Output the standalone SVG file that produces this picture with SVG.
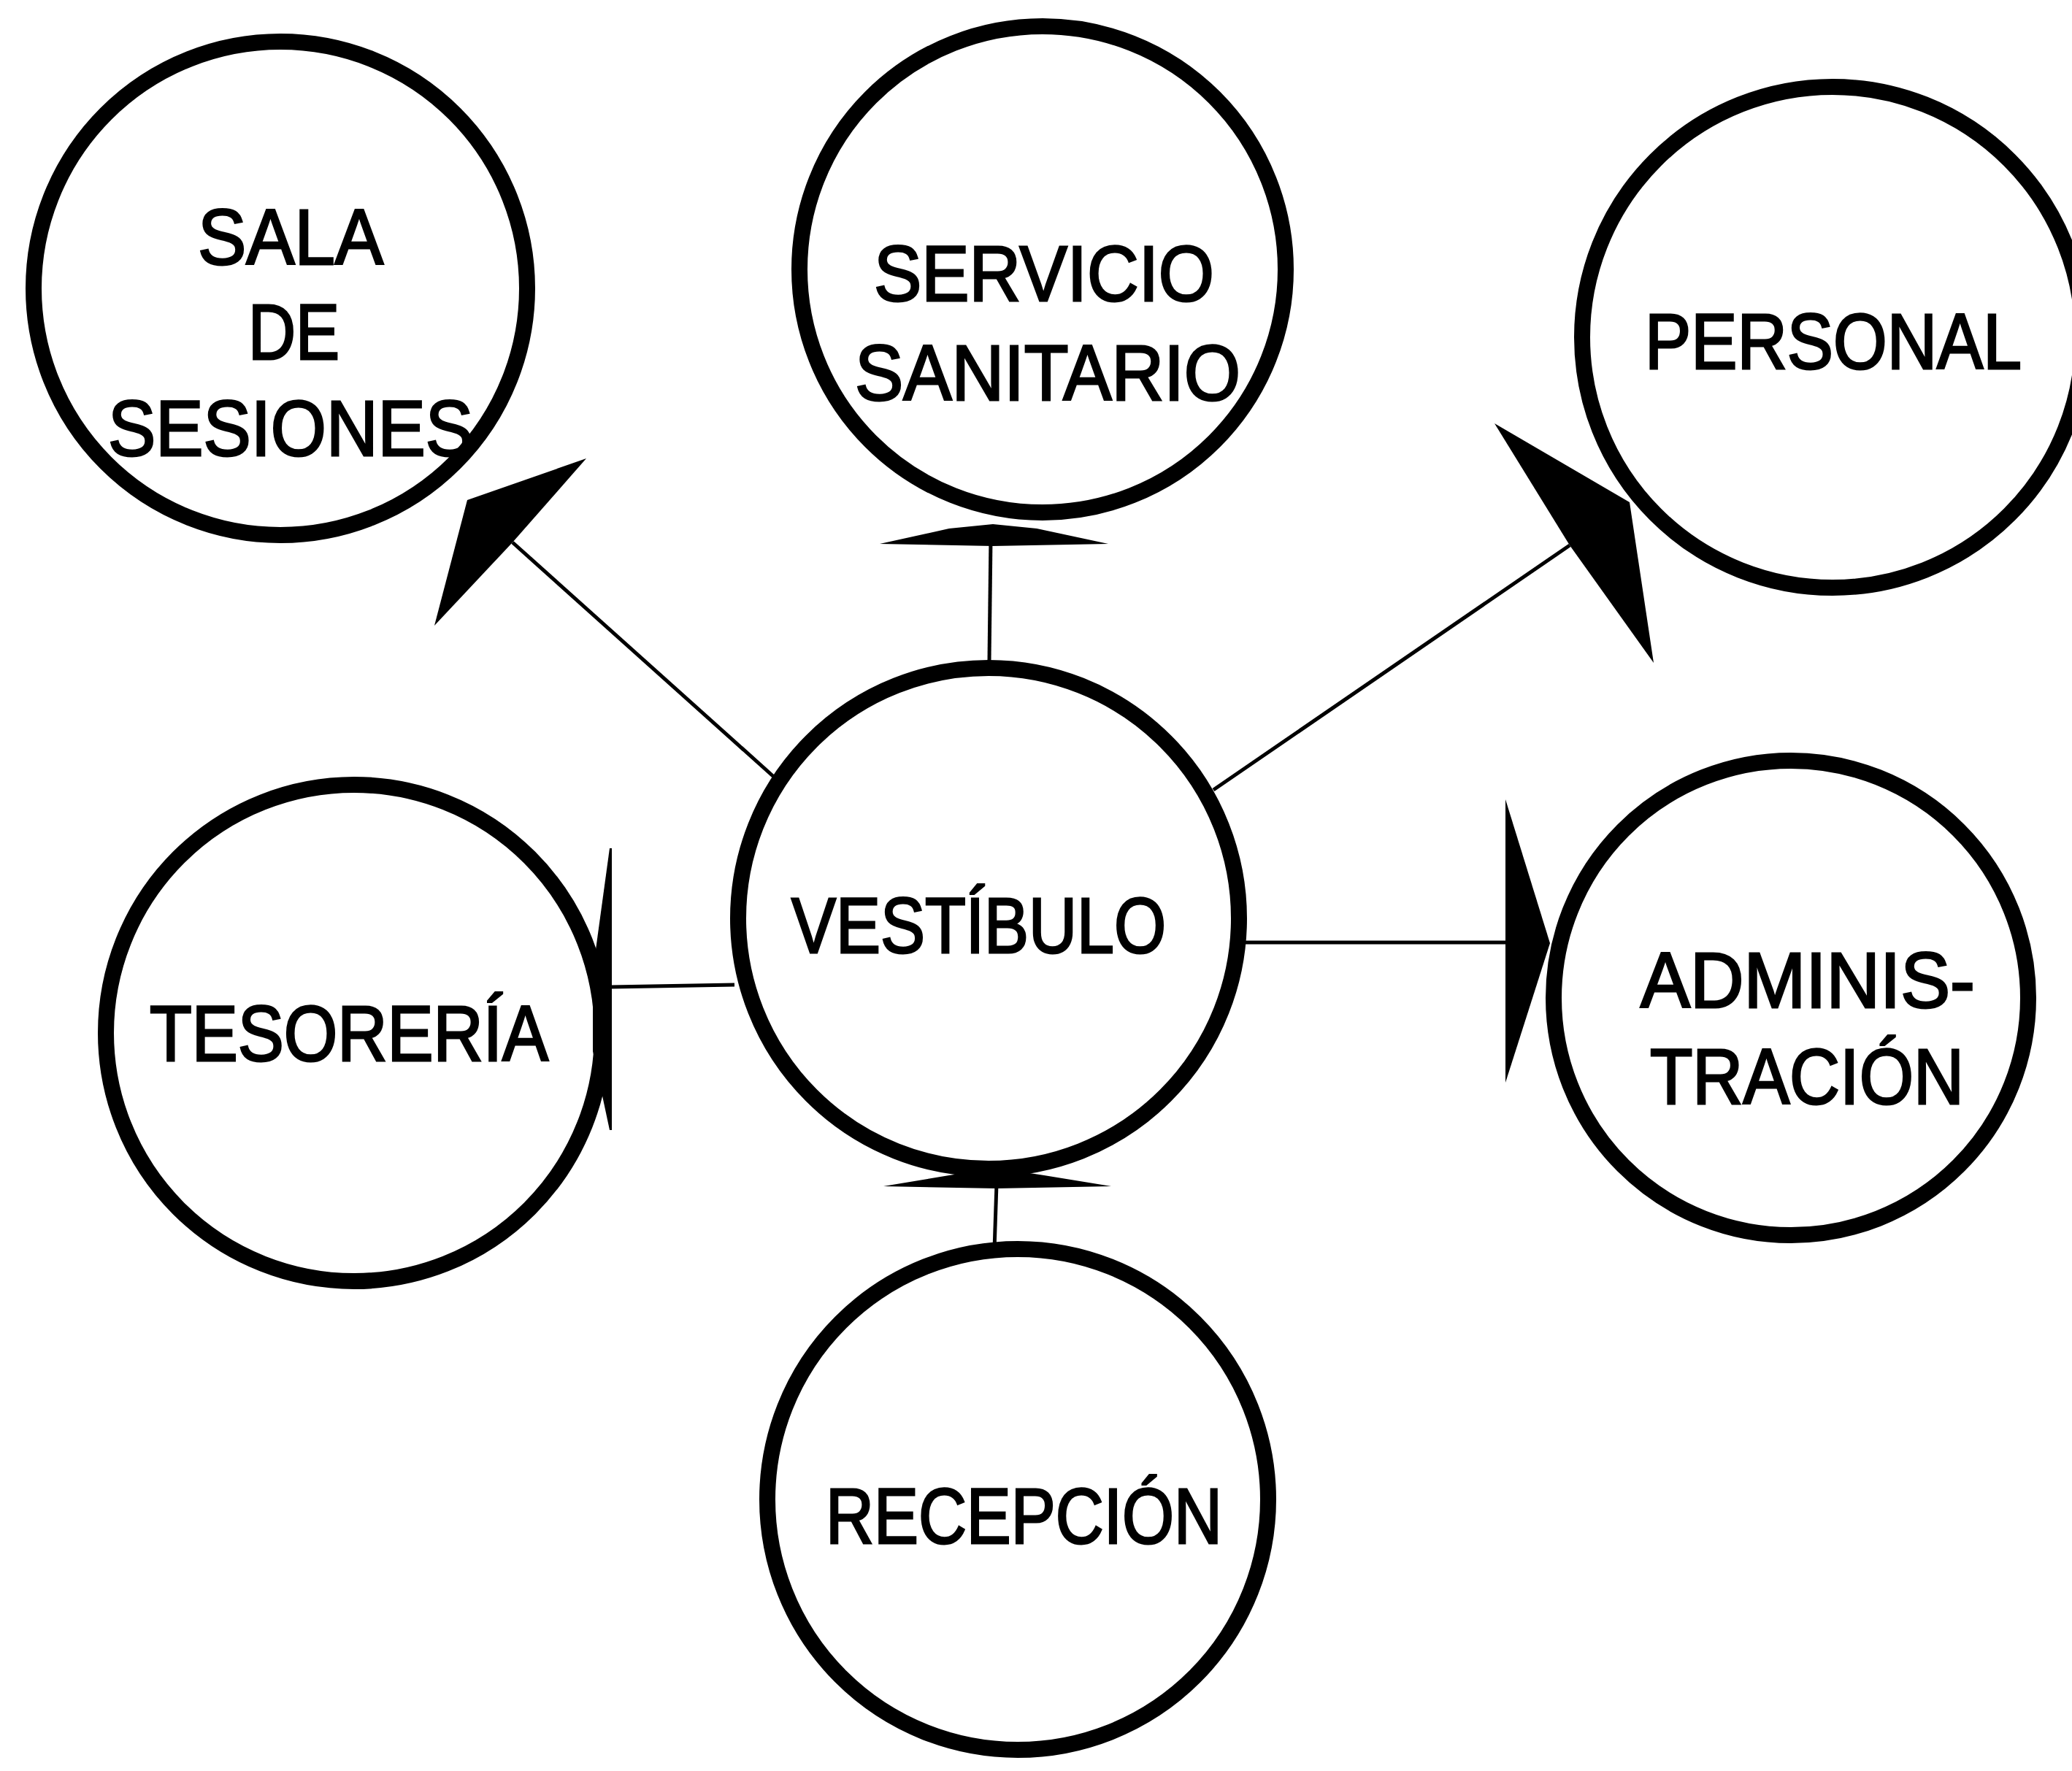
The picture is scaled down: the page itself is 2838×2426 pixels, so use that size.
<svg xmlns="http://www.w3.org/2000/svg" width="2838" height="2426" viewBox="0 0 2838 2426">
<style>
.ring{fill:none;stroke:#000;stroke-width:22}
.lbl{font-family:"Liberation Sans",Arial,sans-serif;font-size:108px;fill:#000;stroke:#000;stroke-width:3;text-anchor:start}
.conn line{stroke:#000;stroke-width:5}
.head{fill:#000}
</style>
<rect width="2838" height="2426" fill="#fff"/>
<g id="connectors" class="conn">
<line x1="702" y1="743" x2="1062" y2="1066"/>
<polygon class="head" points="595,857 640,685 803,628 702,743"/>
<line x1="1357" y1="740" x2="1355" y2="905"/>
<polygon class="head" points="1205,745 1300,724 1360,718 1420,724 1518,745 1360,748"/>
<line x1="2150" y1="747" x2="1662" y2="1082"/>
<polygon class="head" points="2047,580 2232,688 2265,908 2150,747"/>
<line x1="837" y1="1352" x2="1006" y2="1349"/>
<polygon class="head" points="835,1162 838,1162 838,1548 835,1548 812,1440 812,1330"/>
<line x1="1702" y1="1291" x2="2062" y2="1291"/>
<polygon class="head" points="2062,1095 2123,1292 2062,1483"/>
<line x1="1365" y1="1622" x2="1362" y2="1712"/>
<polygon class="head" points="1210,1625 1300,1610 1365,1600 1430,1610 1522,1625 1365,1628"/>
</g>
<g id="sala">
<circle class="ring" cx="384" cy="395" r="338"/>
<text class="lbl" x="271" y="362" textLength="254" lengthAdjust="spacingAndGlyphs">SALA</text>
<text class="lbl" x="340" y="492" textLength="125" lengthAdjust="spacingAndGlyphs">DE</text>
<text class="lbl" x="148" y="624" textLength="500" lengthAdjust="spacingAndGlyphs">SESIONES</text>
</g>
<g id="servicio">
<circle class="ring" cx="1428" cy="369" r="333"/>
<text class="lbl" x="1197" y="412" textLength="466" lengthAdjust="spacingAndGlyphs">SERVICIO</text>
<text class="lbl" x="1171" y="548" textLength="528" lengthAdjust="spacingAndGlyphs">SANITARIO</text>
</g>
<g id="personal">
<circle class="ring" cx="2510" cy="462" r="343"/>
<text class="lbl" x="2253" y="505" textLength="516" lengthAdjust="spacingAndGlyphs">PERSONAL</text>
</g>
<g id="vestibulo">
<circle class="ring" cx="1354" cy="1258" r="343"/>
<text class="lbl" x="1084" y="1305" textLength="513" lengthAdjust="spacingAndGlyphs">VESTÍBULO</text>
</g>
<g id="tesoreria">
<circle class="ring" cx="485" cy="1415" r="340"/>
<text class="lbl" x="205" y="1453" textLength="546" lengthAdjust="spacingAndGlyphs">TESORERÍA</text>
</g>
<g id="administracion">
<circle class="ring" cx="2453" cy="1367" r="325"/>
<text class="lbl" x="2247" y="1380" textLength="458" lengthAdjust="spacingAndGlyphs">ADMINIS-</text>
<text class="lbl" x="2260" y="1512" textLength="430" lengthAdjust="spacingAndGlyphs">TRACIÓN</text>
</g>
<g id="recepcion">
<circle class="ring" cx="1394" cy="2054" r="343"/>
<text class="lbl" x="1131" y="2114" textLength="543" lengthAdjust="spacingAndGlyphs">RECEPCIÓN</text>
</g>
</svg>
